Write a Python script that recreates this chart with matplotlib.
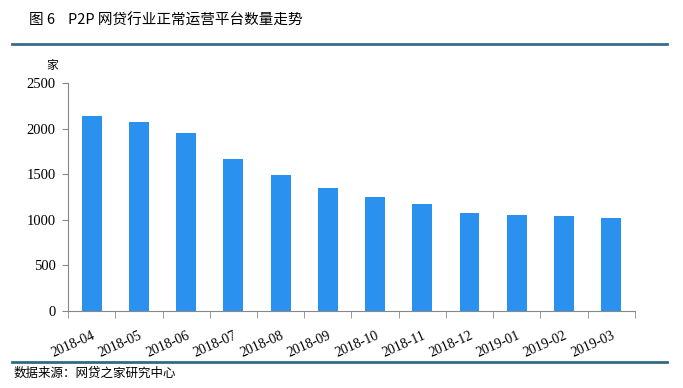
import matplotlib.pyplot as plt
from matplotlib.lines import Line2D

plt.rcParams['font.family'] = ['Noto Sans CJK SC', 'DejaVu Sans']

months = ["2018-04", "2018-05", "2018-06", "2018-07", "2018-08", "2018-09",
          "2018-10", "2018-11", "2018-12", "2019-01", "2019-02", "2019-03"]
platforms = [2138, 2072, 1952, 1667, 1491, 1349, 1250, 1173, 1075, 1053, 1042, 1020]
y_ticks = [0, 500, 1000, 1500, 2000, 2500]

fig = plt.figure(figsize=(6.83, 3.88), dpi=100)
ax = fig.add_axes([0.0996, 0.1985, 0.83, 0.5875])

x = list(range(len(months)))
ax.bar(x, platforms, width=0.42, color='#2b91ef')

ax.set_xlim(-0.5, len(months) - 0.5)
ax.set_ylim(0, 2500)
ax.set_yticks(y_ticks)
ax.set_yticklabels([str(v) for v in y_ticks], family='Liberation Serif', fontsize=10.5)
ax.set_xticks(x)
ax.set_xticklabels(months, family='Liberation Serif', fontsize=10,
                   rotation=24, ha='right', rotation_mode='anchor')
ax.tick_params(axis='x', length=0, pad=13)
ax.set_xticks([i - 0.5 for i in range(len(months) + 1)], minor=True)
ax.tick_params(axis='x', which='minor', length=5, color='#888888')
ax.tick_params(axis='y', length=4, color='#888888', pad=5)

for s in ['top', 'right']:
    ax.spines[s].set_visible(False)
for s in ['left', 'bottom']:
    ax.spines[s].set_color('#888888')
    ax.spines[s].set_linewidth(0.8)

fig.text(52 / 683, 1 - 65 / 388, '家', fontsize=8.5, ha='center', va='center')
fig.text(29 / 683, 1 - 21 / 388, '图 6    P2P 网贷行业正常运营平台数量走势', fontsize=10.5,
         ha='left', va='center')
fig.add_artist(Line2D([12 / 683, 667 / 683], [1 - 44 / 388, 1 - 44 / 388],
                      color='#3b6b8f', linewidth=2.0))
fig.add_artist(Line2D([12 / 683, 667 / 683], [1 - 362 / 388, 1 - 362 / 388],
                      color='#2e6b85', linewidth=2.0))
fig.text(14 / 683, 1 - 373 / 388, '数据来源：网贷之家研究中心', fontsize=9,
         ha='left', va='center')

fig.savefig('out.png', dpi=100)
